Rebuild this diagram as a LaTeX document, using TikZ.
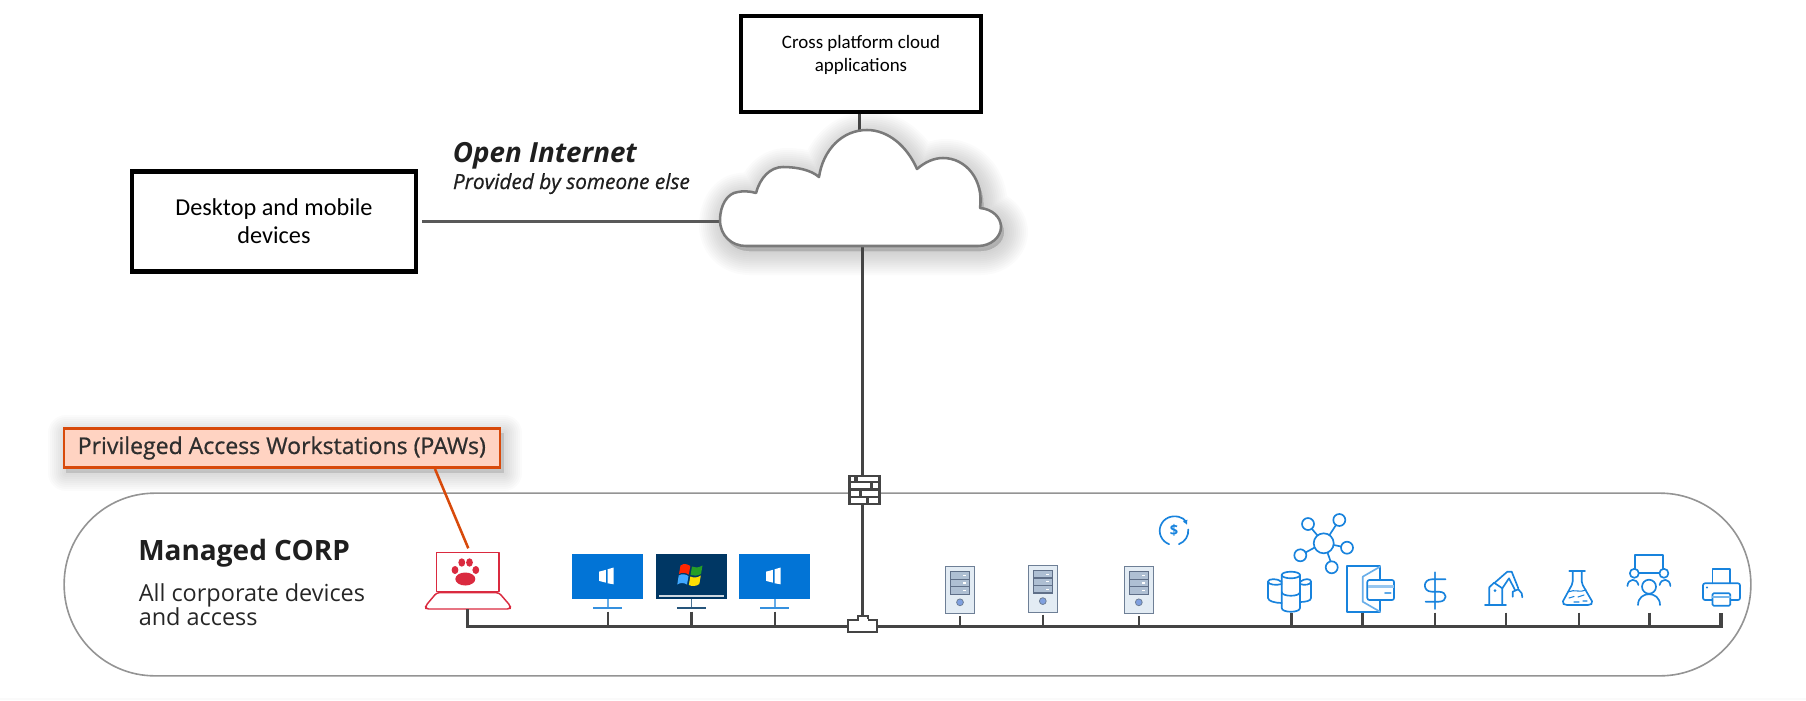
\documentclass[tikz,border=0pt]{standalone}
\usepackage{fontspec}
\setmainfont{Carlito}
\newfontfamily\labelfont{Open Sans}
\newfontfamily\mediumfont[FakeBold=0.7]{Open Sans}
\usetikzlibrary{arrows.meta}

\definecolor{wiregray}{HTML}{444444}
\definecolor{iconblue}{HTML}{1883DD}
\definecolor{winblue}{HTML}{0274D6}
\definecolor{windark}{HTML}{003764}
\definecolor{pawred}{HTML}{DA2A3F}
\definecolor{pawedge}{HTML}{D84A0B}
\definecolor{pawfill}{HTML}{FFD3C2}
\definecolor{srvfill}{HTML}{E3ECF4}
\definecolor{srvedge}{HTML}{6E7F96}
\definecolor{srvrow}{HTML}{AEBFD3}
\definecolor{srvrowedge}{HTML}{5F6F88}
\definecolor{srvdot}{HTML}{7FA0E0}

\newcommand{\cloudoutline}{(720,220) .. controls (720,236) and (732,246) .. (746,246) -- (978,246)
  .. controls (991,246) and (1001,237) .. (1001,227) .. controls (1001,217) and (992,209) .. (980,208)
  .. controls (984,180) and (966,158) .. (943,158) .. controls (934,158) and (925,162) .. (917,169)
  .. controls (907,146) and (888,130) .. (867,130) .. controls (842,130) and (823,150) .. (819,177)
  .. controls (811,170) and (797,167) .. (783,167) .. controls (770,167) and (760,178) .. (756,193)
  .. controls (750,191) and (742,191) .. (738,192) .. controls (727,193) and (720,206) .. (720,220) -- cycle}

\begin{document}
\begin{tikzpicture}[
  x=0.75pt, y=-0.75pt,
  block/.style = {draw=black, fill=white, line width=3.4pt, align=center, inner sep=0pt},
  wire/.style = {draw=wiregray, line width=2.4pt},
  thinwire/.style = {draw=wiregray, line width=2pt},
  tap/.style = {draw=wiregray, line width=1.9pt},
  glyph/.style = {draw=iconblue, line width=1.25pt, line join=round, line cap=round},
  screenbox/.style = {minimum width=53.2pt, minimum height=33.5pt, inner sep=0pt},
  serverbox/.style = {draw=srvedge, fill=srvfill, line width=0.9pt, minimum width=21.5pt, minimum height=35pt, inner sep=0pt},
  heading/.style = {anchor=base west, inner sep=0pt, text=black!88}
]

  \useasboundingbox (0,0) rectangle (1806,700);
  \fill[black!2] (0,698) rectangle (1806,700);

  % Managed network outline
  \node[draw=black!42, line width=1.2pt, rounded corners=68pt, minimum width=1265pt, minimum height=137pt, inner sep=0pt] (corp) at (907.5,584.5) {};

  % Cloud shadow
  \foreach \w in {4,8,...,48}
    \draw[black, opacity=0.016, line width=\w*0.75pt, line join=round, fill=black, shift={(3,5)}] \cloudoutline;

  % Cloud anchors
  \coordinate (cloudTop) at (859.3,131);
  \coordinate (cloudLeft) at (721,221.5);
  \coordinate (cloudBottom) at (862.8,246);
  \coordinate (bus) at (0,626.7);

  % Boxes
  \node[block, minimum width=180pt, minimum height=72pt] (cross) at (861,64) {};
  \node[align=center, inner sep=0pt, font=\fontsize{14.2}{17.3}\selectfont] (crossText) at (861,55) {Cross platform cloud\\applications};
  \node[block, minimum width=213pt, minimum height=75pt, font=\fontsize{18.2}{21}\selectfont] (desktop) at (274,221.5) {Desktop and mobile\\devices};

  % Internet links
  \draw[wire, draw=black!65, shorten <=3pt] (desktop.east) -- (cloudLeft);
  \draw[wire] (cross.south -| cloudTop) -- (cloudTop);
  \draw[wire] (cloudBottom) -- (cloudBottom |- bus);

  % Cloud
  \draw[draw=black!52, fill=white, line width=1.9pt, line join=round] \cloudoutline;

  % Internet label
  \node[heading, font=\labelfont\fontsize{20.8}{24}\selectfont\bfseries\itshape] (internet) at (452.7,162) {Open Internet};
  \node[heading, font=\mediumfont\fontsize{15.6}{18}\selectfont\itshape] (provider) at (452.7,189) {Provided by someone else};

  % PAW callout
  \foreach \w in {4,8,...,36}
    \draw[black, opacity=0.014, line width=\w*0.75pt, line join=round, fill=black] (66,433) rectangle (504,473);
  \node[draw=pawedge, fill=pawfill, line width=1.9pt, minimum width=327pt, minimum height=29pt, inner sep=0pt, text=black!82, font=\mediumfont\fontsize{17.3}{19}\selectfont] (pawNote) at (281.8,448) {Privileged Access Workstations (PAWs)};

  % Corp label
  \node[heading, font=\labelfont\fontsize{21}{25}\selectfont\bfseries] (corpTitle) at (138,560) {Managed CORP};
  \node[anchor=north west, inner sep=0pt, align=left, text=black!85, font=\labelfont\fontsize{17.6}{17.5}\selectfont] (corpText) at (138.5,583) {All corporate devices\\and access};

  % Laptop
  \coordinate (laptopTap) at (467.7,609);
  \draw[pawedge, line width=1.9pt] (435,469) -- (468.3,548.3);
  \draw[pawred, line width=1.1pt, line join=round] (436.7,552.7) rectangle (499,591.7);
  \draw[pawred, line width=1.1pt, line join=round, rounded corners=2pt] (436.7,592.7) -- (499,592.7) -- (510.5,606) -- (510,609) -- (426,609) -- (425.5,606) -- cycle;
  \fill[pawred] (465.3,579) ellipse [x radius=10, y radius=6.5];
  \fill[pawred] (455,570) ellipse [x radius=3.4, y radius=4];
  \fill[pawred] (461.8,562.5) ellipse [x radius=3.4, y radius=4.2];
  \fill[pawred] (469.5,562.5) ellipse [x radius=3.4, y radius=4.2];
  \fill[pawred] (475.8,570) ellipse [x radius=3.4, y radius=4];

  % Workstations
  \node[screenbox, fill=winblue] (winA) at (607.8,576.6) {};
  \node[screenbox, fill=windark] (winB) at (691.3,576.6) {};
  \node[screenbox, fill=winblue] (winC) at (774.8,576.6) {};
  \foreach \icon/\stand/\base in {winA/winblue!60/winblue!80, winB/windark!70/windark!85, winC/winblue!60/winblue!80} {
    \draw[\stand, line width=1.2pt] (\icon.south) -- ++(0,9);
    \draw[\base, line width=1.4pt] ([xshift=-10.9pt,yshift=-6.9pt]\icon.south) -- ([xshift=10.9pt,yshift=-6.9pt]\icon.south);
  }
  \foreach \icon in {winA, winC} {
    \fill[white] ([xshift=-6.5pt,yshift=3.75pt]\icon.center) -- ++(6.7,-1.7) -- ++(0,12.7) -- ++(-6.7,-1.7) -- cycle;
    \fill[white] ([xshift=-0.2pt,yshift=5.5pt]\icon.center) -- ++(6,-1.7) -- ++(0,16.7) -- ++(-6,-1) -- cycle;
  }
  \fill[white!80!windark] (659,594.6) rectangle (723.6,597);
  \fill[orange!30!red] (680.5,565.5) .. controls (684,563) and (687,564) .. (690.3,566) -- (688.8,574.5) .. controls (685,572.5) and (682,572) .. (679,574) -- cycle;
  \fill[green!55!black!85] (692,566.5) .. controls (695,568) and (698,568) .. (702.5,565.5) -- (701,574) .. controls (697,576) and (694,576) .. (690.5,575) -- cycle;
  \fill[blue!45!cyan!75] (678.7,575.5) .. controls (682,573.5) and (685,574) .. (688.5,576) -- (687,584.5) .. controls (684,582.5) and (680,582.5) .. (677.3,584.5) -- cycle;
  \fill[yellow!80!orange] (690.3,576.5) .. controls (694,578) and (697,578) .. (700.8,575.5) -- (699.3,584) .. controls (696,586.5) and (692,586.5) .. (688.8,585) -- cycle;

  % Servers
  \foreach \icon/\x/\y in {srvA/960/590, srvB/1042.8/588.8, srvC/1138.8/590} {
    \node[serverbox] (\icon) at (\x,\y) {};
    \foreach \top in {-18.3,-10.8,-3.3} {
      \draw[srvrowedge, fill=srvrow, line width=0.8pt] (\x-9.6,\y+\top) rectangle (\x+9.6,\y+\top+7.5);
      \fill[white] (\x+3,\y+\top+3.2) rectangle (\x+6.3,\y+\top+4.4);
    }
    \draw[srvedge, fill=srvdot, line width=0.6pt] (\x,\y+12.3) circle (3.4);
  }

  % Billing cycle
  \begin{scope}[shift={(1174,530.7)}, y=0.75pt]
    \draw[glyph] (-70:14.3) arc (-70:5:14.3);
    \draw[glyph, {Latex[length=3.5pt,width=4pt]}-] (24:14.3) arc (24:250:14.3);
    \node[text=iconblue, inner sep=0pt, font=\labelfont\fontsize{11}{11}\selectfont\bfseries] (cycleSign) at (0,0) {\$};
  \end{scope}

  % Hub
  \draw[glyph] (1323.7,543.3) circle (10);
  \draw[glyph] (1308,524) circle (6);
  \draw[glyph] (1339.3,520) circle (6);
  \draw[glyph] (1347,547.7) circle (6);
  \draw[glyph] (1331.7,567.3) circle (6);
  \draw[glyph] (1300.3,555.3) circle (6);
  \draw[glyph] (1312,529) -- (1317.5,535.5);
  \draw[glyph] (1336,525) -- (1329.5,535);
  \draw[glyph] (1341,546.5) -- (1333.7,545);
  \draw[glyph] (1330.5,561.3) -- (1327.5,552.5);
  \draw[glyph] (1305.5,552.5) -- (1314.7,547.5);

  % Database
  \draw[glyph] (1300,582) .. controls (1304,578) and (1311,578.5) .. (1311,581.5) -- (1311,598) .. controls (1311,601) and (1305,602) .. (1300,602);
  \draw[glyph] (1300,584) .. controls (1304,585.5) and (1311,585) .. (1311,581.5);
  \draw[glyph] (1281.7,582) .. controls (1278,578) and (1268,578.5) .. (1268,581.5) -- (1268,598) .. controls (1268,601) and (1275,603) .. (1281.7,603);
  \draw[glyph] (1281.7,584) .. controls (1277,585.5) and (1268,585) .. (1268,581.5);
  \draw[glyph] (1281.7,575) -- (1281.7,608) .. controls (1281.7,613) and (1300,613) .. (1300,608) -- (1300,575);
  \draw[glyph] (1290.85,575) ellipse [x radius=9.15, y radius=3.3];
  \draw[glyph] (1281.7,592) .. controls (1281.7,597) and (1300,597) .. (1300,592);

  % Payment door
  \draw[glyph, line cap=butt] (1347.3,565.7) rectangle (1380,611.7);
  \draw[glyph, draw=iconblue!65] (1380,566.7) -- (1362.7,576.7) -- (1362.7,601.7) -- (1380,611.7);
  \draw[glyph, fill=white, rounded corners=1.5pt] (1367.3,580) rectangle (1394,600);
  \fill[iconblue!45] (1367.8,585) rectangle (1393.5,588.3);
  \draw[glyph, draw=iconblue!70] (1385,593.3) -- (1390.7,593.3);

  % Dollar
  \draw[glyph, draw=iconblue!85] (1435.2,572.3) -- (1435.2,609);
  \draw[glyph] (1445.5,579.3) -- (1431.8,579.3) .. controls (1422.5,579.3) and (1422.5,591.7) .. (1431.8,591.7) -- (1438.7,591.7) .. controls (1448,591.7) and (1448,601.7) .. (1438.7,601.7) -- (1425.6,601.7);

  % Robot arm
  \draw[glyph] (1485,605) -- (1506,605);
  \draw[glyph] (1489.3,605) -- (1489.3,587.3) -- (1494,582.7) -- (1502.3,588.3) -- (1502.3,605);
  \fill[iconblue] (1495,590.7) circle (1.5);
  \draw[glyph] (1494,583.3) -- (1507.3,571.7) -- (1511.7,571.7) -- (1518.3,588.3);
  \draw[glyph] (1502.3,588.3) -- (1509,578.3) -- (1515,590);
  \draw[glyph] (1512.7,596.7) -- (1512.7,591.7) -- (1518.3,589.3) -- (1521.7,593.3) -- (1522.3,597.3);

  % Flask
  \draw[glyph] (1569.3,571) -- (1585,571);
  \draw[glyph, rounded corners=1.5pt] (1572.7,571) -- (1572.7,583.3) -- (1562,603) -- (1565,605) -- (1590,605) -- (1593,603) -- (1581.7,583.3) -- (1581.7,571);
  \draw[glyph, line width=0.8pt] (1569,591.7) .. controls (1574,589) and (1580,593) .. (1586,590);
  \draw[glyph, line width=0.8pt] (1569,598) -- (1574,596.5) (1578,597) -- (1584,595) (1574,602) -- (1579,602) (1583,601) -- (1587,601);

  % People
  \draw[glyph] (1635,569) -- (1635,555) -- (1663.2,555) -- (1663.2,569);
  \draw[glyph] (1639,572.7) -- (1659.3,572.7);
  \draw[glyph] (1634.3,573.3) circle (4.5);
  \draw[glyph] (1663.9,573.3) circle (4.5);
  \draw[glyph] (1649,586.7) circle (7);
  \draw[glyph] (1638,605) .. controls (1638,590.5) and (1660,590.5) .. (1660,605);
  \draw[glyph] (1627.4,586) .. controls (1628,578) and (1637,578) .. (1638.4,585);
  \draw[glyph] (1659.6,585) .. controls (1661,578) and (1670,578) .. (1670.4,586);

  % Printer
  \draw[glyph] (1712.4,583.3) -- (1712.4,569) -- (1730.3,569) -- (1730.3,583.3);
  \draw[glyph, rounded corners=1.5pt] (1712.4,600) -- (1703,600) -- (1703,583.3) -- (1740,583.3) -- (1740,600) -- (1730.3,600);
  \draw[glyph, fill=white, rounded corners=1pt] (1712.4,593.3) rectangle (1730.3,605.7);
  \draw[glyph, draw=iconblue!60] (1712.4,597) -- (1730.3,597);
  \fill[iconblue] (1707,587.5) circle (1.1);

  % Tap points on the bus
  \coordinate (dbTap) at (1291.7,612.5);
  \coordinate (doorTap) at (1362.7,612.5);
  \coordinate (dollarTap) at (1435.2,612.7);
  \coordinate (armTap) at (1506.2,612.7);
  \coordinate (flaskTap) at (1578.8,612.7);
  \coordinate (peopleTap) at (1649.7,612.7);
  \coordinate (printerTap) at (1721,612.7);
  \coordinate (busA) at (927,626.7);
  \coordinate (busB) at (1178,626.7);

  % Bus
  \draw[wire] (laptopTap) |- (busA);
  \draw[thinwire] (busA) -- (busB);
  \draw[wire] (busB) -| (printerTap);
  \foreach \icon in {dbTap, doorTap, dollarTap, armTap, flaskTap, peopleTap}
    \draw[tap] (\icon) -- (\icon |- bus);
  \foreach \icon in {winA, winB, winC}
    \draw[tap] ([yshift=-9.3pt]\icon.south) -- (\icon.south |- bus);
  \foreach \icon in {srvA, srvB, srvC}
    \draw[tap] ([yshift=-1.5pt]\icon.south) -- (\icon.south |- bus);

  % Firewall
  \node[fill=wiregray, minimum width=24.3pt, minimum height=22.5pt, inner sep=0pt] (firewall) at (864.5,490) {};
  \foreach \ya/\yb/\xa/\xb in {476.7/481/850.7/854.3, 476.7/481/857.7/878.3, 483.3/488.3/850.7/870, 483.3/488.3/872.7/878.3, 490.7/495.7/850.7/859.3, 490.7/495.7/861.7/878.3, 497.7/502.7/850.7/866, 497.7/502.7/869/878.3}
    \fill[white] (\xa,\ya) rectangle (\xb,\yb);

  % Switch
  \draw[wiregray, fill=white, line width=1.5pt] (857.7,622) -- (857.7,615.5) -- (868.3,615.5) -- (868.3,622);
  \node[draw=wiregray, fill=white, line width=1.5pt, minimum width=21.7pt, minimum height=8.7pt, inner sep=0pt] (switch) at (862.8,625.8) {};
  \fill[white] (858.5,619) rectangle (867.5,623);

\end{tikzpicture}
\end{document}
